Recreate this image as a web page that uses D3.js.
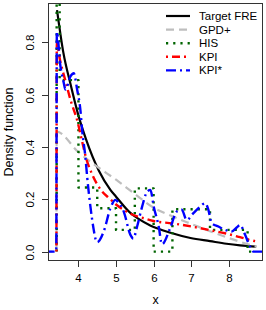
<!DOCTYPE html>
<html>
<head>
<meta charset="utf-8">
<script src="https://cdn.jsdelivr.net/npm/d3@7/dist/d3.min.js"></script>
<style>
  body { margin: 0; background: #fff; }
  svg text { font-family: "Liberation Sans", Arial, sans-serif; fill: #000; }
</style>
</head>
<body>
<svg id="chart"></svg>
<script>
var width = 266, height = 310;
var padLeft = 48, padRight = 263, padTop = 3, padBottom = 261;

// Target FRE density
var targetX = [3.43, 3.6, 3.79, 4.0, 4.2, 4.54, 4.85, 5.0, 5.38, 5.6, 5.91, 6.45, 6.98, 7.5, 7.94, 8.3, 8.73];
var targetY = [0.924, 0.76, 0.64, 0.52, 0.43, 0.31, 0.236, 0.21, 0.148, 0.125, 0.10, 0.072, 0.052, 0.04, 0.03, 0.024, 0.019];

// GPD+
var gpdX = [3.1, 3.415, 3.42, 4.0, 4.5, 5.0, 5.46, 6.0, 6.5, 7.0, 7.5, 8.0, 8.4, 8.73];
var gpdY = [0, 0, 0.459, 0.38, 0.325, 0.275, 0.225, 0.168, 0.135, 0.106, 0.078, 0.052, 0.033, 0.019];

// HIS (histogram, bin edges and heights)
var hisEdges = [3.42, 3.5, 4.0, 4.5, 5.0, 5.5, 6.0, 6.5, 7.0, 7.5, 8.0, 8.5, 8.65];
var hisHeights = [0.95, 0.656, 0.245, 0.166, 0.083, 0.242, 0, 0.162, 0.162, 0.083, 0.083, 0];

// KPI
var kpiX = [3.415, 3.425, 3.5, 3.65, 3.8, 3.97, 4.1, 4.2, 4.35, 4.6, 4.85, 5.0, 5.2, 5.46, 5.75, 6.0, 6.5, 7.0, 7.5, 7.9, 8.3, 8.55, 8.7];
var kpiY = [0, 0.80, 0.74, 0.655, 0.575, 0.50, 0.42, 0.36, 0.30, 0.235, 0.20, 0.18, 0.16, 0.14, 0.127, 0.117, 0.108, 0.096, 0.082, 0.07, 0.055, 0.045, 0.04];

// KPI*
var kpisX = [3.1, 3.41, 3.425, 3.52, 3.61, 3.654, 3.787, 3.875, 3.965, 4.053, 4.098, 4.186, 4.231, 4.319, 4.407, 4.46, 4.5,
  4.673, 4.851, 4.984, 5.05, 5.205, 5.383, 5.46, 5.561, 5.694, 5.827, 5.915, 6.003, 6.136, 6.22, 6.439, 6.614, 6.747, 6.88,
  7.059, 7.237, 7.37, 7.457, 7.545, 7.723, 7.902, 8.077, 8.21, 8.301, 8.434, 8.566, 8.654, 9.0];
var kpisY = [0, 0, 0.84, 0.71, 0.645, 0.62, 0.67, 0.682, 0.62, 0.54, 0.465, 0.36, 0.287, 0.172, 0.083, 0.045, 0.036,
  0.077, 0.166, 0.198, 0.19, 0.153, 0.064, 0.05, 0.096, 0.172, 0.229, 0.236, 0.172, 0.096, 0.028, 0.089, 0.153, 0.16, 0.121,
  0.147, 0.172, 0.185, 0.16, 0.109, 0.096, 0.083, 0.077, 0.092, 0.102, 0.064, 0.019, 0, 0];

var xTicks = [4, 5, 6, 7, 8];
var yTicks = [0, 0.2, 0.4, 0.6, 0.8];
var legendLabels = ["Target FRE", "GPD+", "HIS", "KPI", "KPI*"];

var xScale = d3.scaleLinear().domain([3.19, 8.91]).range([padLeft, padRight]);
var yScale = d3.scaleLinear().domain([-0.036, 0.951]).range([padBottom, padTop]);

var svg = d3.select("#chart").attr("width", width).attr("height", height);

svg.append("clipPath").attr("id", "clip")
   .append("rect").attr("x", padLeft).attr("y", padTop)
   .attr("width", padRight - padLeft).attr("height", padBottom - padTop);

function pairs(xs, ys) {
  return xs.map(function(x, i) { return [x, ys[i]]; });
}

var smooth = d3.line()
  .x(function(d) { return xScale(d[0]); })
  .y(function(d) { return yScale(d[1]); })
  .curve(d3.curveMonotoneX);

var step = d3.line()
  .x(function(d) { return xScale(d[0]); })
  .y(function(d) { return yScale(d[1]); })
  .curve(d3.curveStepAfter);

var hisPts = [[hisEdges[0], 0]];
hisHeights.forEach(function(h, i) { hisPts.push([hisEdges[i], h]); });
hisPts.push([hisEdges[hisEdges.length - 1], 0]);

var series = [
  { d: smooth(pairs(targetX, targetY)), color: "#000000", dash: null, w: 2.2 },
  { d: smooth(pairs(gpdX, gpdY)), color: "#bebebe", dash: "8,5", w: 2.2 },
  { d: step(hisPts), color: "#006400", dash: "2.2,5", w: 2.4 },
  { d: smooth(pairs(kpiX, kpiY)), color: "#ff0000", dash: "2,4,8,4", w: 2.4 },
  { d: smooth(pairs(kpisX, kpisY)), color: "#0000ff", dash: "10,4,2,4", w: 2.4 }
];

var g = svg.append("g").attr("clip-path", "url(#clip)");
series.forEach(function(s) {
  g.append("path")
   .attr("d", s.d)
   .attr("fill", "none")
   .attr("stroke", s.color)
   .attr("stroke-width", s.w)
   .attr("stroke-dasharray", s.dash)
   .attr("stroke-linejoin", "round");
});

// box
svg.append("rect")
   .attr("x", padLeft + 0.5).attr("y", padTop + 0.5)
   .attr("width", padRight - padLeft - 1).attr("height", padBottom - padTop - 1)
   .attr("fill", "none").attr("stroke", "#333").attr("stroke-width", 1);

// x axis ticks
xTicks.forEach(function(t) {
  var x = Math.round(xScale(t)) + 0.5;
  svg.append("line").attr("x1", x).attr("x2", x).attr("y1", padBottom).attr("y2", padBottom + 6)
     .attr("stroke", "#333");
  svg.append("text").attr("x", x).attr("y", 282).attr("text-anchor", "middle")
     .attr("font-size", "11.5px").text(t);
});

// y axis ticks
yTicks.forEach(function(t) {
  var y = Math.round(yScale(t)) + 0.5;
  svg.append("line").attr("x1", padLeft - 6).attr("x2", padLeft).attr("y1", y).attr("y2", y)
     .attr("stroke", "#333");
  svg.append("text").attr("transform", "translate(34," + y + ") rotate(-90)")
     .attr("text-anchor", "middle").attr("font-size", "11.5px").text(t.toFixed(1));
});

// axis labels
svg.append("text").attr("x", (padLeft + padRight) / 2).attr("y", 304)
   .attr("text-anchor", "middle").attr("font-size", "12.5px").text("x");
svg.append("text").attr("transform", "translate(13," + (padTop + padBottom) / 2 + ") rotate(-90)")
   .attr("text-anchor", "middle").attr("font-size", "12.5px").text("Density function");

// legend
series.forEach(function(s, i) {
  var y = 16 + i * 13.6;
  svg.append("line").attr("x1", 166).attr("x2", 190).attr("y1", y).attr("y2", y)
     .attr("stroke", s.color).attr("stroke-width", s.w).attr("stroke-dasharray", s.dash);
  svg.append("text").attr("x", 199).attr("y", y + 4).attr("font-size", "11.5px").text(legendLabels[i]);
});
</script>
</body>
</html>
